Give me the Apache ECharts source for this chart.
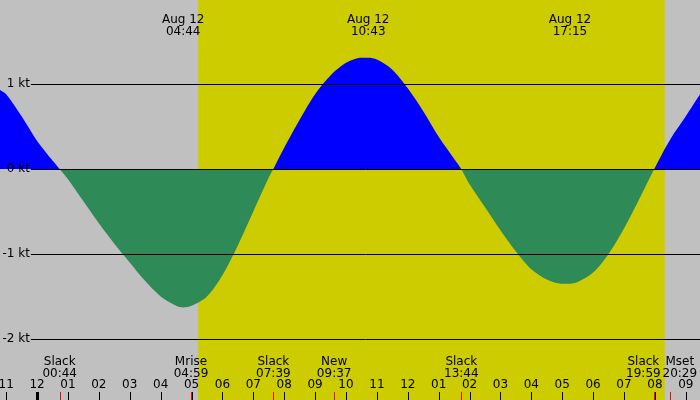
<!DOCTYPE html><html><head><meta charset="utf-8"><script src="https://cdn.jsdelivr.net/npm/echarts@6/dist/echarts.min.js"></script>
<style>html,body{margin:0;padding:0}#c{width:700px;height:400px}</style></head><body><div id="c"></div><script>
const title = "Point Sykes, Behm Canal, Alaska Current";
const hours = [-1.2,-1,-0.5,0,0.5,0.73,1,1.5,2,2.5,3,3.5,4,4.5,4.73,5,5.5,6,6.5,7,7.5,7.65,8,8.5,9,9.5,10,10.5,10.72,11,11.5,12,12.5,13,13.5,13.73,14,14.5,15,15.5,16,16.5,17,17.25,17.5,18,18.5,19,19.5,19.98,20.5,21,21.46];
const speed = [0.93,0.88,0.62,0.33,0.1,0,-0.12,-0.38,-0.64,-0.88,-1.1,-1.32,-1.5,-1.61,-1.63,-1.61,-1.5,-1.25,-0.9,-0.5,-0.1,0,0.25,0.58,0.88,1.1,1.25,1.31,1.31,1.29,1.17,0.95,0.68,0.38,0.12,0,-0.18,-0.45,-0.72,-0.97,-1.18,-1.3,-1.35,-1.35,-1.33,-1.22,-1.0,-0.7,-0.35,0,0.35,0.62,0.88];
const topTimes = [4.73,10.72,17.25];
const topLabels = ["Aug 12\n04:44","Aug 12\n10:43","Aug 12\n17:15"];
const events = [0.733,4.983,7.65,9.617,13.733,19.983,20.483];
const eventLabels = ["Slack\n00:44","Mrise\n04:59","Slack\n07:39","New\n09:37","Slack\n13:44","Slack\n19:59","Mset\n20:29"];
const eventShift = [0,0,0,0,0,-11,10];
const hourTicks = [-1,0,1,2,3,4,5,6,7,8,9,10,11,12,13,14,15,16,17,18,19,20,21];
const ktLevels = [1,0,-1,-2];
const ktLabels = ["1 kt","0 kt","-1 kt","-2 kt"];
const daylight = [5.21,20.32];
const XMIN=-1.2, XMAX=21.46, YMIN=-2.72, YMAX=1.99;
const hourLabel = h => String(((h+11)%12+12)%12+1).padStart(2,'0');
const curve = hours.map((h,i)=>[h,speed[i]]);
const font = 'DejaVu Sans';
const px = v => Math.round(v)+0.5;
const el = document.getElementById('c');
const zeroFrac = YMAX/(YMAX-YMIN);
const fill = {type:'linear',x:0,y:0,x2:0,y2:el.clientHeight,global:true,colorStops:[
  {offset:0,color:'#0000ff'},{offset:zeroFrac,color:'#0000ff'},{offset:zeroFrac,color:'#2e8b57'},{offset:1,color:'#2e8b57'}]};
const chart = echarts.init(el);
chart.setOption({
  animation:false,
  backgroundColor:'#c0c0c0',
  grid:{left:0,right:0,top:0,bottom:0},
  xAxis:{type:'value',min:XMIN,max:XMAX,show:false},
  yAxis:{type:'value',min:YMIN,max:YMAX,show:false},
  series:[
    {type:'line',data:curve,smooth:0.3,symbol:'none',lineStyle:{width:0},areaStyle:{opacity:1,color:fill},z:3,
     markArea:{silent:true,itemStyle:{color:'#cccc00'},data:[[{xAxis:daylight[0]},{xAxis:daylight[1]}]]}},
    {type:'custom',z:5,data:ktLevels.map((v,i)=>[v,i]),renderItem:(p,api)=>{
      const v=api.value(0),i=api.value(1);const a=api.coord([-0.2,v]),b=api.coord([XMAX,v]);
      return {type:'group',children:[
        {type:'line',shape:{x1:a[0],y1:px(a[1]),x2:b[0],y2:px(a[1])},style:{stroke:'#000',lineWidth:1}},
        {type:'text',style:{text:ktLabels[i],x:a[0]-1,y:a[1],align:'right',verticalAlign:'middle',font:'12px '+font,fill:'#000'}}]};}},
    {type:'custom',z:6,data:hourTicks.map(h=>[h]),renderItem:(p,api)=>{
      const h=api.value(0);const a=api.coord([h,YMIN]);
      return {type:'group',children:[
        {type:'line',shape:{x1:px(a[0]),y1:a[1]-8,x2:px(a[0]),y2:a[1]},style:{stroke:'#000',lineWidth:h===0?3:1}},
        {type:'text',style:{text:hourLabel(h),x:a[0],y:a[1]-15,align:'center',verticalAlign:'middle',font:'12px '+font,fill:'#000'}}]};}},
    {type:'custom',z:6,data:events.map((h,i)=>[h,i]),renderItem:(p,api)=>{
      const h=api.value(0),i=api.value(1);const a=api.coord([h,YMIN]);
      return {type:'group',children:[
        {type:'line',shape:{x1:px(a[0]),y1:a[1]-8,x2:px(a[0]),y2:a[1]},style:{stroke:'#ff0000',lineWidth:1}},
        {type:'text',style:{text:eventLabels[i],x:a[0]+eventShift[i],y:a[1]-32,align:'center',verticalAlign:'middle',lineHeight:12,font:'12px '+font,fill:'#000'}}]};}},
    {type:'custom',z:6,data:topTimes.map((h,i)=>[h,i]),renderItem:(p,api)=>{
      const h=api.value(0),i=api.value(1);const a=api.coord([h,YMAX]);
      return {type:'text',style:{text:topLabels[i],x:a[0],y:a[1]+26,align:'center',verticalAlign:'middle',lineHeight:12,font:'12px '+font,fill:'#000'}};}},
    {type:'scatter',z:7,data:[[15.3,-0.835]],symbol:'none',label:{show:true,formatter:'+',position:'inside',fontSize:14,color:'#000',fontFamily:font}}
  ],
  graphic:[{type:'text',left:'center',top:1,style:{text:title,font:'12px '+font,fill:'#000'}}]
});
</script></body></html>
